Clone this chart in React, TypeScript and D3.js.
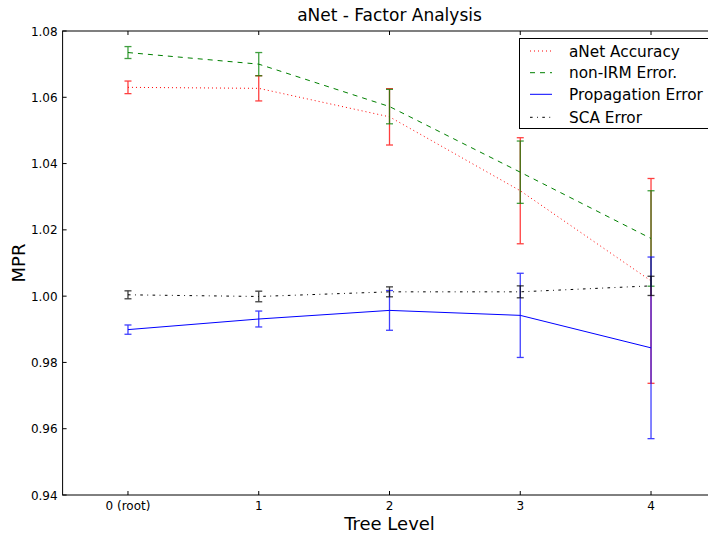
import React, { useRef, useEffect } from 'react';
import * as d3 from 'd3';

const levels = ['0 (root)', '1', '2', '3', '4'];

const anetAcc = [1.063, 1.0627, 1.0541, 1.0318, 1.0046];
const anetErr = [0.0019, 0.0038, 0.0085, 0.016, 0.0309];

const nonIrm = [1.0735, 1.07, 1.0572, 1.0374, 1.0174];
const nonIrmErr = [0.0018, 0.0035, 0.0052, 0.0094, 0.0144];

const propErr = [0.0014, 0.0024, 0.006, 0.0127, 0.0274];
const propagation = [0.9899, 0.9931, 0.9957, 0.9942, 0.9844];

const sca = [1.0004, 0.9999, 1.0013, 1.0013, 1.0031];
const scaErr = [0.0012, 0.0016, 0.0015, 0.0018, 0.0029];

const yTicks = [0.94, 0.96, 0.98, 1.0, 1.02, 1.04, 1.06, 1.08];

const series = [
  { name: 'aNet Accuracy', values: anetAcc, errors: anetErr, color: '#ff0000', dash: '1,3' },
  { name: 'non-IRM Error.', values: nonIrm, errors: nonIrmErr, color: '#008000', dash: '5,5' },
  { name: 'Propagation Error', values: propagation, errors: propErr, color: '#0000ff', dash: null },
  { name: 'SCA Error', values: sca, errors: scaErr, color: '#000000', dash: '2.6,4.4,0.9,4.4' },
];

const App = () => {
  const svgRef = useRef<SVGSVGElement>(null);

  useEffect(() => {
    const width = 708;
    const height = 533;
    const left = 62.6, right = 716.4, top = 31, bottom = 495;
    const font = 'DejaVu Sans, sans-serif';

    const svg = d3.select(svgRef.current);
    svg.selectAll('*').remove();
    svg.attr('width', width).attr('height', height);

    svg.append('rect').attr('width', width).attr('height', height).attr('fill', '#fff');

    const x = d3.scaleLinear().domain([-0.5, 4.5]).range([left, right]);
    const y = d3.scaleLinear().domain([0.94, 1.08]).range([bottom, top]);

    const plot = svg.append('g');

    // series lines + error bars
    series.forEach(s => {
      const line = d3.line<number>()
        .x((_, i) => x(i))
        .y(d => y(d));

      plot.append('path')
        .datum(s.values)
        .attr('d', line)
        .attr('fill', 'none')
        .attr('stroke', s.color)
        .attr('stroke-width', 1)
        .attr('stroke-dasharray', s.dash);

      const eb = plot.append('g').attr('stroke', s.color).attr('stroke-width', 1.3).attr('opacity', 0.75);
      s.values.forEach((v, i) => {
        const cx = x(i);
        const y1 = y(v + s.errors[i]);
        const y2 = y(v - s.errors[i]);
        eb.append('line').attr('x1', cx).attr('x2', cx).attr('y1', y1).attr('y2', y2);
        eb.append('line').attr('x1', cx - 3.5).attr('x2', cx + 3.5).attr('y1', y1).attr('y2', y1);
        eb.append('line').attr('x1', cx - 3.5).attr('x2', cx + 3.5).attr('y1', y2).attr('y2', y2);
      });
    });

    // frame
    svg.append('rect')
      .attr('x', left).attr('y', top)
      .attr('width', right - left).attr('height', bottom - top)
      .attr('fill', 'none').attr('stroke', '#000').attr('stroke-width', 1);

    // x ticks (inside, top and bottom)
    const xt = svg.append('g');
    levels.forEach((lab, i) => {
      const px = x(i);
      xt.append('line').attr('x1', px).attr('x2', px).attr('y1', bottom).attr('y2', bottom - 4).attr('stroke', '#000');
      xt.append('line').attr('x1', px).attr('x2', px).attr('y1', top).attr('y2', top + 4).attr('stroke', '#000');
      xt.append('text')
        .attr('x', px).attr('y', bottom + 15)
        .attr('text-anchor', 'middle')
        .attr('font-family', font).attr('font-size', 12)
        .text(lab);
    });

    // y ticks
    const yt = svg.append('g');
    yTicks.forEach(t => {
      const py = y(t);
      yt.append('line').attr('x1', left).attr('x2', left + 4).attr('y1', py).attr('y2', py).attr('stroke', '#000');
      yt.append('line').attr('x1', right).attr('x2', right - 4).attr('y1', py).attr('y2', py).attr('stroke', '#000');
      yt.append('text')
        .attr('x', left - 5).attr('y', py + 4.5)
        .attr('text-anchor', 'end')
        .attr('font-family', font).attr('font-size', 12)
        .text(t.toFixed(2));
    });

    // title and axis labels
    svg.append('text')
      .attr('x', (left + right) / 2).attr('y', 21)
      .attr('text-anchor', 'middle')
      .attr('font-family', font).attr('font-size', 17)
      .text('aNet - Factor Analysis');

    svg.append('text')
      .attr('x', (left + right) / 2).attr('y', 530)
      .attr('text-anchor', 'middle')
      .attr('font-family', font).attr('font-size', 18)
      .text('Tree Level');

    svg.append('text')
      .attr('transform', `translate(25,${(top + bottom) / 2}) rotate(-90)`)
      .attr('text-anchor', 'middle')
      .attr('font-family', font).attr('font-size', 18)
      .text('MPR');

    // legend
    const lg = svg.append('g');
    lg.append('rect')
      .attr('x', 519.5).attr('y', 38.5)
      .attr('width', 192).attr('height', 90)
      .attr('fill', '#fff').attr('stroke', '#000').attr('stroke-width', 1);
    const rowY = [51, 72.7, 94.3, 117.3];
    series.forEach((s, i) => {
      lg.append('line')
        .attr('x1', 530).attr('x2', 552)
        .attr('y1', rowY[i]).attr('y2', rowY[i])
        .attr('stroke', s.color).attr('stroke-width', 1)
        .attr('stroke-dasharray', s.dash);
      lg.append('text')
        .attr('x', 569).attr('y', rowY[i] + 5.5)
        .attr('font-family', font).attr('font-size', 15.3)
        .text(s.name);
    });
  }, []);

  return (
    <svg
      ref={svgRef}
      style={{ position: 'absolute', left: 0, top: 0, display: 'block' }}
    ></svg>
  );
};

export default App;
